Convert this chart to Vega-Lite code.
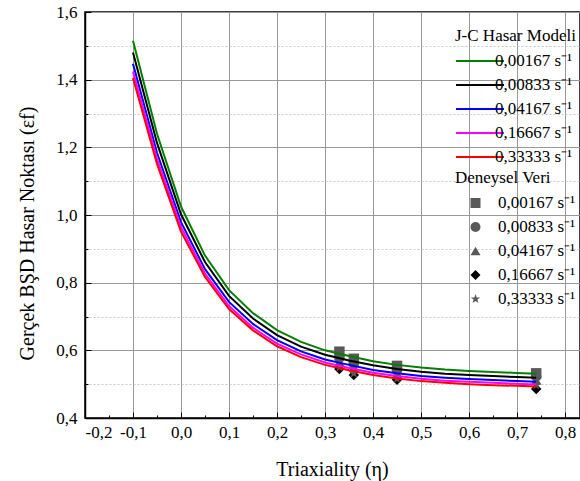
{
  "$schema": "https://vega.github.io/schema/vega-lite/v6.json",
  "autosize": {"type": "none"},
  "padding": {"left": 85, "top": 12, "right": 0, "bottom": 63},
  "width": 495,
  "height": 406,
  "datasets": {
    "lines": [
      {"eta": -0.1, "ef": 1.515, "seri": "0,00167 s⁻¹"},
      {"eta": -0.05, "ef": 1.24, "seri": "0,00167 s⁻¹"},
      {"eta": 0.0, "ef": 1.025, "seri": "0,00167 s⁻¹"},
      {"eta": 0.05, "ef": 0.88, "seri": "0,00167 s⁻¹"},
      {"eta": 0.1, "ef": 0.778, "seri": "0,00167 s⁻¹"},
      {"eta": 0.15, "ef": 0.71, "seri": "0,00167 s⁻¹"},
      {"eta": 0.2, "ef": 0.66, "seri": "0,00167 s⁻¹"},
      {"eta": 0.25, "ef": 0.625, "seri": "0,00167 s⁻¹"},
      {"eta": 0.3, "ef": 0.6, "seri": "0,00167 s⁻¹"},
      {"eta": 0.35, "ef": 0.583, "seri": "0,00167 s⁻¹"},
      {"eta": 0.4, "ef": 0.568, "seri": "0,00167 s⁻¹"},
      {"eta": 0.45, "ef": 0.557, "seri": "0,00167 s⁻¹"},
      {"eta": 0.5, "ef": 0.549, "seri": "0,00167 s⁻¹"},
      {"eta": 0.55, "ef": 0.543, "seri": "0,00167 s⁻¹"},
      {"eta": 0.6, "ef": 0.539, "seri": "0,00167 s⁻¹"},
      {"eta": 0.65, "ef": 0.536, "seri": "0,00167 s⁻¹"},
      {"eta": 0.7, "ef": 0.533, "seri": "0,00167 s⁻¹"},
      {"eta": 0.74, "ef": 0.531, "seri": "0,00167 s⁻¹"},
      {"eta": -0.1, "ef": 1.48, "seri": "0,00833 s⁻¹"},
      {"eta": -0.05, "ef": 1.213, "seri": "0,00833 s⁻¹"},
      {"eta": 0.0, "ef": 1.002, "seri": "0,00833 s⁻¹"},
      {"eta": 0.05, "ef": 0.861, "seri": "0,00833 s⁻¹"},
      {"eta": 0.1, "ef": 0.761, "seri": "0,00833 s⁻¹"},
      {"eta": 0.15, "ef": 0.694, "seri": "0,00833 s⁻¹"},
      {"eta": 0.2, "ef": 0.645, "seri": "0,00833 s⁻¹"},
      {"eta": 0.25, "ef": 0.611, "seri": "0,00833 s⁻¹"},
      {"eta": 0.3, "ef": 0.587, "seri": "0,00833 s⁻¹"},
      {"eta": 0.35, "ef": 0.57, "seri": "0,00833 s⁻¹"},
      {"eta": 0.4, "ef": 0.556, "seri": "0,00833 s⁻¹"},
      {"eta": 0.45, "ef": 0.545, "seri": "0,00833 s⁻¹"},
      {"eta": 0.5, "ef": 0.537, "seri": "0,00833 s⁻¹"},
      {"eta": 0.55, "ef": 0.531, "seri": "0,00833 s⁻¹"},
      {"eta": 0.6, "ef": 0.527, "seri": "0,00833 s⁻¹"},
      {"eta": 0.65, "ef": 0.524, "seri": "0,00833 s⁻¹"},
      {"eta": 0.7, "ef": 0.521, "seri": "0,00833 s⁻¹"},
      {"eta": 0.74, "ef": 0.519, "seri": "0,00833 s⁻¹"},
      {"eta": -0.1, "ef": 1.447, "seri": "0,04167 s⁻¹"},
      {"eta": -0.05, "ef": 1.184, "seri": "0,04167 s⁻¹"},
      {"eta": 0.0, "ef": 0.979, "seri": "0,04167 s⁻¹"},
      {"eta": 0.05, "ef": 0.84, "seri": "0,04167 s⁻¹"},
      {"eta": 0.1, "ef": 0.743, "seri": "0,04167 s⁻¹"},
      {"eta": 0.15, "ef": 0.678, "seri": "0,04167 s⁻¹"},
      {"eta": 0.2, "ef": 0.63, "seri": "0,04167 s⁻¹"},
      {"eta": 0.25, "ef": 0.597, "seri": "0,04167 s⁻¹"},
      {"eta": 0.3, "ef": 0.573, "seri": "0,04167 s⁻¹"},
      {"eta": 0.35, "ef": 0.557, "seri": "0,04167 s⁻¹"},
      {"eta": 0.4, "ef": 0.542, "seri": "0,04167 s⁻¹"},
      {"eta": 0.45, "ef": 0.532, "seri": "0,04167 s⁻¹"},
      {"eta": 0.5, "ef": 0.524, "seri": "0,04167 s⁻¹"},
      {"eta": 0.55, "ef": 0.519, "seri": "0,04167 s⁻¹"},
      {"eta": 0.6, "ef": 0.515, "seri": "0,04167 s⁻¹"},
      {"eta": 0.65, "ef": 0.512, "seri": "0,04167 s⁻¹"},
      {"eta": 0.7, "ef": 0.509, "seri": "0,04167 s⁻¹"},
      {"eta": 0.74, "ef": 0.507, "seri": "0,04167 s⁻¹"},
      {"eta": -0.1, "ef": 1.424, "seri": "0,16667 s⁻¹"},
      {"eta": -0.05, "ef": 1.166, "seri": "0,16667 s⁻¹"},
      {"eta": 0.0, "ef": 0.964, "seri": "0,16667 s⁻¹"},
      {"eta": 0.05, "ef": 0.827, "seri": "0,16667 s⁻¹"},
      {"eta": 0.1, "ef": 0.731, "seri": "0,16667 s⁻¹"},
      {"eta": 0.15, "ef": 0.667, "seri": "0,16667 s⁻¹"},
      {"eta": 0.2, "ef": 0.62, "seri": "0,16667 s⁻¹"},
      {"eta": 0.25, "ef": 0.588, "seri": "0,16667 s⁻¹"},
      {"eta": 0.3, "ef": 0.564, "seri": "0,16667 s⁻¹"},
      {"eta": 0.35, "ef": 0.548, "seri": "0,16667 s⁻¹"},
      {"eta": 0.4, "ef": 0.534, "seri": "0,16667 s⁻¹"},
      {"eta": 0.45, "ef": 0.524, "seri": "0,16667 s⁻¹"},
      {"eta": 0.5, "ef": 0.516, "seri": "0,16667 s⁻¹"},
      {"eta": 0.55, "ef": 0.51, "seri": "0,16667 s⁻¹"},
      {"eta": 0.6, "ef": 0.507, "seri": "0,16667 s⁻¹"},
      {"eta": 0.65, "ef": 0.504, "seri": "0,16667 s⁻¹"},
      {"eta": 0.7, "ef": 0.501, "seri": "0,16667 s⁻¹"},
      {"eta": 0.74, "ef": 0.499, "seri": "0,16667 s⁻¹"},
      {"eta": -0.1, "ef": 1.405, "seri": "0,33333 s⁻¹"},
      {"eta": -0.05, "ef": 1.151, "seri": "0,33333 s⁻¹"},
      {"eta": 0.0, "ef": 0.951, "seri": "0,33333 s⁻¹"},
      {"eta": 0.05, "ef": 0.817, "seri": "0,33333 s⁻¹"},
      {"eta": 0.1, "ef": 0.722, "seri": "0,33333 s⁻¹"},
      {"eta": 0.15, "ef": 0.659, "seri": "0,33333 s⁻¹"},
      {"eta": 0.2, "ef": 0.612, "seri": "0,33333 s⁻¹"},
      {"eta": 0.25, "ef": 0.58, "seri": "0,33333 s⁻¹"},
      {"eta": 0.3, "ef": 0.557, "seri": "0,33333 s⁻¹"},
      {"eta": 0.35, "ef": 0.541, "seri": "0,33333 s⁻¹"},
      {"eta": 0.4, "ef": 0.527, "seri": "0,33333 s⁻¹"},
      {"eta": 0.45, "ef": 0.517, "seri": "0,33333 s⁻¹"},
      {"eta": 0.5, "ef": 0.509, "seri": "0,33333 s⁻¹"},
      {"eta": 0.55, "ef": 0.504, "seri": "0,33333 s⁻¹"},
      {"eta": 0.6, "ef": 0.5, "seri": "0,33333 s⁻¹"},
      {"eta": 0.65, "ef": 0.497, "seri": "0,33333 s⁻¹"},
      {"eta": 0.7, "ef": 0.495, "seri": "0,33333 s⁻¹"},
      {"eta": 0.74, "ef": 0.493, "seri": "0,33333 s⁻¹"}
    ],
    "pts": [
      {"eta": 0.33, "ef": 0.596, "veri": "0,00167 s⁻¹"},
      {"eta": 0.36, "ef": 0.575, "veri": "0,00167 s⁻¹"},
      {"eta": 0.45, "ef": 0.554, "veri": "0,00167 s⁻¹"},
      {"eta": 0.74, "ef": 0.532, "veri": "0,00167 s⁻¹"},
      {"eta": 0.33, "ef": 0.578, "veri": "0,00833 s⁻¹"},
      {"eta": 0.36, "ef": 0.56, "veri": "0,00833 s⁻¹"},
      {"eta": 0.45, "ef": 0.542, "veri": "0,00833 s⁻¹"},
      {"eta": 0.74, "ef": 0.523, "veri": "0,00833 s⁻¹"},
      {"eta": 0.33, "ef": 0.566, "veri": "0,04167 s⁻¹"},
      {"eta": 0.36, "ef": 0.55, "veri": "0,04167 s⁻¹"},
      {"eta": 0.45, "ef": 0.532, "veri": "0,04167 s⁻¹"},
      {"eta": 0.74, "ef": 0.512, "veri": "0,04167 s⁻¹"},
      {"eta": 0.33, "ef": 0.545, "veri": "0,16667 s⁻¹"},
      {"eta": 0.36, "ef": 0.527, "veri": "0,16667 s⁻¹"},
      {"eta": 0.45, "ef": 0.513, "veri": "0,16667 s⁻¹"},
      {"eta": 0.74, "ef": 0.486, "veri": "0,16667 s⁻¹"},
      {"eta": 0.33, "ef": 0.55, "veri": "0,33333 s⁻¹"},
      {"eta": 0.36, "ef": 0.532, "veri": "0,33333 s⁻¹"},
      {"eta": 0.45, "ef": 0.516, "veri": "0,33333 s⁻¹"},
      {"eta": 0.74, "ef": 0.497, "veri": "0,33333 s⁻¹"}
    ]
  },
  "layer": [
    {
      "data": {"name": "pts"},
      "mark": {"type": "point", "filled": true, "size": 110, "opacity": 1, "strokeWidth": 0},
      "encoding": {
        "x": {
          "field": "eta", "type": "quantitative",
          "scale": {"domain": [-0.2, 0.83125], "nice": false, "zero": false},
          "axis": {"orient": "bottom", "values": [-0.15, -0.05, 0.05, 0.15, 0.25, 0.35, 0.45, 0.55, 0.65, 0.75], "tickSize": -3, "labels": false, "grid": false, "domain": false, "title": null}
        },
        "y": {
          "field": "ef", "type": "quantitative",
          "scale": {"domain": [0.4, 1.6], "nice": false, "zero": false},
          "axis": {"orient": "left", "values": [0.5, 0.7, 0.9, 1.1, 1.3, 1.5], "tickSize": -3, "labels": false, "grid": true, "gridColor": "#c8c8c8", "gridDash": [2, 2], "gridWidth": 1, "domain": false, "title": null}
        },
        "shape": {
          "field": "veri", "type": "nominal",
          "scale": {"range": ["square", "circle", "triangle-up", "diamond", "M0,-1L0.235,-0.324L0.951,-0.309L0.38,0.124L0.588,0.809L0,0.4L-0.588,0.809L-0.38,0.124L-0.951,-0.309L-0.235,-0.324Z"]},
          "legend": {"orient": "none", "legendX": 370, "legendY": 158, "title": "Deneysel Veri", "symbolSize": 100, "symbolOffset": 12, "labelOffset": 14, "clipHeight": 24, "rowPadding": 0, "titlePadding": 4, "padding": 0, "symbolStrokeWidth": 0}
        },
        "fill": {
          "field": "veri", "type": "nominal",
          "scale": {"range": ["#595959", "#595959", "#595959", "#000000", "#595959"]},
          "legend": {"orient": "none", "legendX": 370, "legendY": 158, "title": "Deneysel Veri", "symbolSize": 100, "symbolOffset": 12, "labelOffset": 14, "clipHeight": 24, "rowPadding": 0, "titlePadding": 4, "padding": 0, "symbolStrokeWidth": 0}
        }
      }
    },
    {
      "data": {"name": "lines"},
      "mark": {"type": "line", "strokeWidth": 2},
      "encoding": {
        "x": {
          "field": "eta", "type": "quantitative",
          "scale": {"domain": [-0.2, 0.83125], "nice": false, "zero": false},
          "axis": {"orient": "bottom", "values": [-0.2, -0.1, 0, 0.1, 0.2, 0.3, 0.4, 0.5, 0.6, 0.7, 0.8], "format": ".1f", "tickSize": -6, "grid": true, "gridColor": "#999999", "gridWidth": 1, "domainWidth": 1.5, "labelPadding": 12, "title": "Triaxiality (η)", "titleX": 247, "titleY": 57, "titleBaseline": "alphabetic", "titleAlign": "center"}
        },
        "y": {
          "field": "ef", "type": "quantitative",
          "scale": {"domain": [0.4, 1.6], "nice": false, "zero": false},
          "axis": {"orient": "left", "values": [0.4, 0.6, 0.8, 1.0, 1.2, 1.4, 1.6], "format": ".1f", "tickSize": -6, "grid": true, "gridColor": "#999999", "gridWidth": 1, "domainWidth": 1.5, "labelPadding": 14, "title": "Gerçek BŞD Hasar Noktası (εf)", "titleX": -48, "titleY": 221, "titleAngle": 270, "titleBaseline": "bottom", "titleAlign": "center"}
        },
        "stroke": {
          "field": "seri", "type": "nominal",
          "scale": {"range": ["#008000", "#000000", "#0000ff", "#ff00ff", "#ff0000"]},
          "legend": {"orient": "none", "legendX": 370, "legendY": 16, "title": "J-C Hasar Modeli", "symbolType": "stroke", "symbolSize": 2300, "symbolStrokeWidth": 2, "clipHeight": 24, "rowPadding": 0, "labelOffset": -10, "titlePadding": 4, "padding": 0}
        }
      }
    }
  ],
  "resolve": {"axis": {"x": "independent", "y": "independent"}},
  "config": {
    "font": "Liberation Serif",
    "view": {"stroke": "black", "strokeWidth": 1.5},
    "axis": {
      "labelFont": "Liberation Serif", "labelFontSize": 17, "labelColor": "black",
      "titleFont": "Liberation Serif", "titleFontSize": 20, "titleFontWeight": "normal", "titleColor": "black",
      "domainColor": "black", "tickColor": "black", "tickWidth": 1
    },
    "legend": {
      "labelFont": "Liberation Serif", "labelFontSize": 17, "labelColor": "black",
      "titleFont": "Liberation Serif", "titleFontSize": 17, "titleFontWeight": "normal", "titleColor": "black"
    },
    "locale": {"number": {"decimal": ",", "thousands": ".", "grouping": [3], "currency": ["", ""], "minus": "-"}}
  }
}
